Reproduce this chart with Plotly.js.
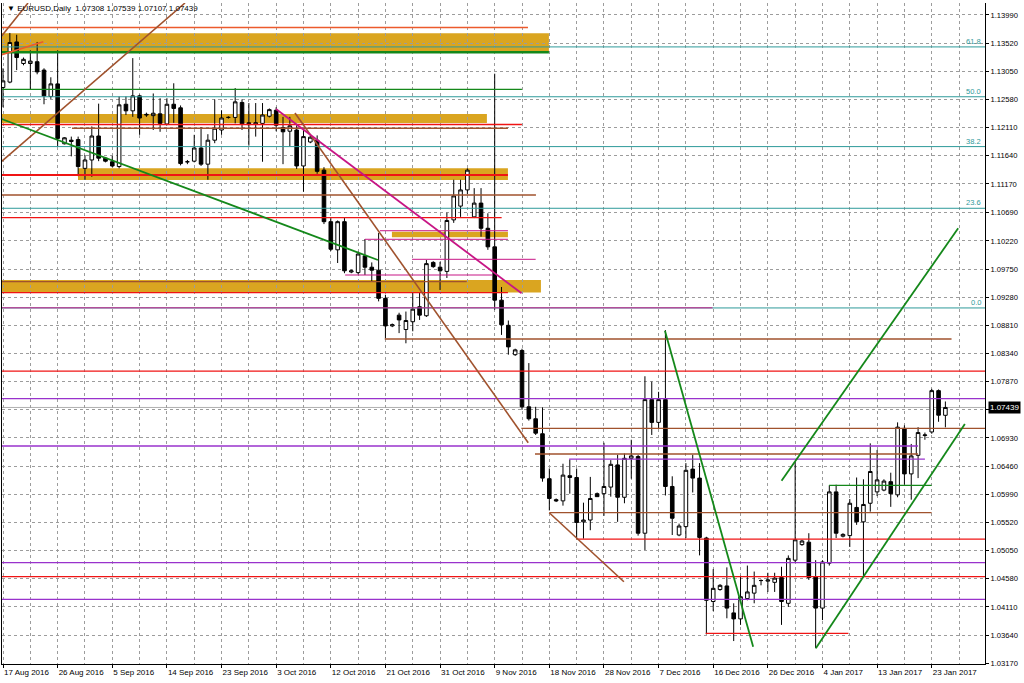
<!DOCTYPE html>
<html>
<head>
<meta charset="utf-8">
<script src="https://cdn.plot.ly/plotly-3.0.1.min.js"></script>
<style>
html,body{margin:0;padding:0;background:#fff;}
#chart{width:1024px;height:683px;}
</style>
</head>
<body>
<div id="chart"></div>
<script>
// ---- Daily bars (broker includes Sunday sessions, no Saturdays) ----
const firstDay = '2016-08-17';
const barCount = 139;
const dates = (function () {
  const out = [];
  const d = new Date(firstDay + 'T00:00:00Z');
  while (out.length < barCount) {
    if (d.getUTCDay() !== 6) out.push(d.toISOString().slice(0, 10));
    d.setUTCDate(d.getUTCDate() + 1);
  }
  return out;
})();

const open = [1.1278,1.1287,1.1354,1.1318,1.1318,1.1321,1.1307,1.1263,1.1284,1.1184,
1.1190,1.1191,1.1143,1.1157,1.1197,1.1160,1.1154,1.1146,1.1250,1.1239,
1.1264,1.1232,1.1231,1.1234,1.1217,1.1250,1.1244,1.1154,1.1155,1.1177,
1.1150,1.1190,1.1207,1.1228,1.1228,1.1253,1.1219,1.1217,1.1218,1.1230,
1.1240,1.1211,1.1205,1.1207,1.1147,1.1187,1.1190,1.1140,1.1054,1.1007,
1.1054,1.0970,1.0969,1.0997,1.0978,1.0973,1.0926,1.0880,1.0898,1.0874,
1.0887,1.0912,1.0897,1.0986,1.0978,1.0971,1.1057,1.1080,1.1107,1.1062,
1.1085,1.1043,1.1012,1.0923,1.0881,1.0832,1.0839,1.0745,1.0725,1.0700,
1.0625,1.0590,1.0588,1.0630,1.0627,1.0553,1.0556,1.0600,1.0600,1.0611,
1.0648,1.0594,1.0659,1.0662,1.0534,1.0757,1.0719,1.0757,1.0612,1.0531,
1.0545,1.0641,1.0626,1.0526,1.0420,1.0440,1.0446,1.0401,1.0391,1.0425,
1.0434,1.0455,1.0454,1.0452,1.0460,1.0417,1.0489,1.0515,1.0519,1.0461,
1.0409,1.0484,1.0603,1.0529,1.0530,1.0577,1.0553,1.0584,1.0603,1.0606,
1.0620,1.0598,1.0709,1.0633,1.0664,1.0697,1.0703,1.0772,1.07308];
const high = [1.1310,1.1369,1.1366,1.1328,1.1340,1.1354,1.1310,1.1295,1.1340,1.1195,
1.1196,1.1196,1.1165,1.1213,1.1251,1.1162,1.1164,1.1263,1.1263,1.1327,
1.1266,1.1236,1.1268,1.1260,1.1260,1.1285,1.1248,1.1157,1.1199,1.1212,
1.1200,1.1258,1.1240,1.1230,1.1277,1.1258,1.1252,1.1252,1.1252,1.1243,
1.1245,1.1229,1.1229,1.1215,1.1207,1.1198,1.1198,1.1145,1.1060,1.1056,
1.1060,1.0974,1.1004,1.1025,1.0986,1.1035,1.0932,1.0884,1.0902,1.0904,
1.0935,1.0935,1.0990,1.0988,1.0987,1.1069,1.1124,1.1124,1.1143,1.1110,
1.1110,1.1068,1.1301,1.0945,1.0889,1.0842,1.0842,1.0818,1.0745,1.0744,
1.0642,1.0592,1.0650,1.0657,1.0642,1.0585,1.0628,1.0602,1.0685,1.0656,
1.0665,1.0667,1.0690,1.0665,1.0796,1.0787,1.0770,1.0873,1.0629,1.0550,
1.0651,1.0665,1.0651,1.0528,1.0474,1.0449,1.0477,1.0417,1.0463,1.0480,
1.0470,1.0457,1.0468,1.0468,1.0478,1.0497,1.0653,1.0523,1.0534,1.0489,
1.0489,1.0614,1.0615,1.0534,1.0591,1.0627,1.0624,1.0684,1.0673,1.0624,
1.0635,1.0719,1.0714,1.0683,1.0711,1.0702,1.0775,1.0774,1.07539];
const low = [1.1245,1.1285,1.1307,1.1315,1.1275,1.1300,1.1250,1.1259,1.1180,1.1183,
1.1163,1.1130,1.1124,1.1129,1.1155,1.1153,1.1145,1.1143,1.1232,1.1229,
1.1199,1.1229,1.1207,1.1204,1.1215,1.1219,1.1148,1.1150,1.1153,1.1147,
1.1124,1.1185,1.1199,1.1226,1.1218,1.1207,1.1181,1.1196,1.1154,1.1228,
1.1205,1.1150,1.1180,1.1142,1.1104,1.1185,1.1134,1.1050,1.1005,1.0985,
1.0968,1.0968,1.0966,1.0965,1.0954,1.0921,1.0859,1.0878,1.0868,1.0851,
1.0871,1.0890,1.0895,1.0977,1.0940,1.0960,1.1052,1.1062,1.1100,1.1060,
1.1029,1.1007,1.0907,1.0865,1.0832,1.0830,1.0740,1.0722,1.0698,1.0620,
1.0572,1.0586,1.0580,1.0600,1.0525,1.0525,1.0539,1.0595,1.0563,1.0595,
1.0553,1.0584,1.0625,1.0530,1.0506,1.0698,1.0709,1.0597,1.0531,1.0529,
1.0526,1.0602,1.0497,1.0365,1.0404,1.0438,1.0392,1.0354,1.0381,1.0422,
1.0417,1.0447,1.0436,1.0436,1.0381,1.0411,1.0485,1.0513,1.0456,1.0342,
1.0389,1.0480,1.0526,1.0527,1.0511,1.0548,1.0462,1.0570,1.0596,1.0604,
1.0578,1.0594,1.0615,1.0590,1.0626,1.0690,1.0700,1.0720,1.07107];
const close = [1.1289,1.1353,1.1328,1.1325,1.1322,1.1304,1.1264,1.1284,1.1193,1.1194,
1.1188,1.1146,1.1157,1.1197,1.1160,1.1155,1.1147,1.1249,1.1239,1.1264,
1.1227,1.1233,1.1235,1.1218,1.1250,1.1243,1.1151,1.1154,1.1177,1.1150,
1.1190,1.1210,1.1227,1.1228,1.1254,1.1217,1.1216,1.1219,1.1232,1.1241,
1.1215,1.1204,1.1214,1.1147,1.1196,1.1195,1.1138,1.1054,1.1008,1.1054,
1.0972,1.0972,1.1000,1.0978,1.0973,1.0926,1.0880,1.0882,1.0890,1.0889,
1.0908,1.0898,1.0984,1.0979,1.0972,1.1056,1.1097,1.1107,1.1140,1.1085,
1.1043,1.1012,1.0923,1.0882,1.0845,1.0840,1.0745,1.0725,1.0701,1.0626,
1.0592,1.0588,1.0631,1.0627,1.0552,1.0556,1.0592,1.0595,1.0612,1.0649,
1.0594,1.0659,1.0663,1.0534,1.0757,1.0719,1.0757,1.0612,1.0559,1.0546,
1.0639,1.0626,1.0527,1.0422,1.0442,1.0447,1.0409,1.0391,1.0428,1.0436,
1.0447,1.0455,1.0456,1.0459,1.0420,1.0492,1.0523,1.0521,1.0460,1.0409,
1.0486,1.0603,1.0534,1.0532,1.0584,1.0553,1.0582,1.0637,1.0623,1.0621,
1.0600,1.0711,1.0633,1.0663,1.0702,1.0698,1.0772,1.0731,1.07439];

// ---- Axis labels ----
const tickDates = ['2016-08-17','2016-08-26','2016-09-05','2016-09-14','2016-09-23','2016-10-03',
  '2016-10-12','2016-10-21','2016-10-31','2016-11-09','2016-11-18','2016-11-28','2016-12-07',
  '2016-12-16','2016-12-26','2017-01-04','2017-01-13','2017-01-23'];
const tickLabels = ['17 Aug 2016','26 Aug 2016','5 Sep 2016','14 Sep 2016','23 Sep 2016','3 Oct 2016',
  '12 Oct 2016','21 Oct 2016','31 Oct 2016','9 Nov 2016','18 Nov 2016','28 Nov 2016','7 Dec 2016',
  '16 Dec 2016','26 Dec 2016','4 Jan 2017','13 Jan 2017','23 Jan 2017'];
const priceTicks = [1.13990,1.13520,1.13050,1.12580,1.12110,1.11640,1.11170,1.10690,1.10220,
  1.09750,1.09280,1.08810,1.08340,1.07870,1.07400,1.06930,1.06460,1.05990,1.05520,1.05050,
  1.04580,1.04110,1.03640,1.03170];
const hiddenTick = 1.07400; // covered by the last-price box

const symbolTitle = 'EURUSD,Daily';
const lastBar = {o: 1.07308, h: 1.07539, l: 1.07107, c: 1.07439};

// ---- Fibonacci retracement ----
const fibLow = 1.0910, fibHigh = 1.1615;
const fibLevels = [0, 23.6, 38.2, 50.0, 61.8];

// ---- Drawn objects: [price, fromBar, toBar] ----
const goldZones = [ // [top, bottom, fromBar, toBar]
  [1.13684, 1.13367, -0.2, 79.94],
  [1.12337, 1.12187, -0.2, 70.86],
  [1.11431, 1.11235, 10.98, 73.94],
  [1.10373, 1.10279, 56.95, 73.94],
  [1.09567, 1.09358, -0.2, 78.77]
];
const END = 143.8;
const redLevels = [
  [1.12162, -0.2, 75.99], [1.10606, -0.2, 73.02], [1.09357, -0.2, 73.94],
  [1.08047, -0.2, END], [1.05243, 83.99, END], [1.04614, -0.2, END], [1.03669, 102.9, 123.8]
];
const redThickLevels = [[1.11319, -0.2, 73.94]];
const orangeLevels = [[1.13781, -0.2, 76.87]];
const siennaLevels = [
  [1.12099, 10.1, 73.94], [1.10985, -0.2, 78.04], [1.09538, -0.2, 67.9],
  [1.08582, 55.9, 138.9], [1.07091, 75.9, END], [1.06662, 77.9, 134.0], [1.05682, 80.0, 135.98]
];
const purpleLevels = [
  [1.07585, -0.2, END], [1.06796, -0.2, 134.0], [1.06576, 82.9, 135.0],
  [1.04848, -0.2, END], [1.04237, -0.2, END]
];
const magentaLevels = [
  [1.10389, 55.2, 73.94], [1.10246, 53.0, 73.94], [1.09912, 59.9, 78.0],
  [1.09650, 50.1, 71.7], [1.09102, -0.2, 103.9]
];
const greenLevels = [[1.12749, -0.2, 75.99], [1.06137, 120.96, 135.98]];
const greenThickLevels = [[1.13367, -0.2, 79.94]];

// ---- Trend lines: [fromBar, fromPrice, toBar, toPrice] ----
const siennaTrends = [
  [-0.2, 1.11548, 26.65, 1.14190], [-0.2, 1.13639, 3.66, 1.14190],
  [42.75, 1.12354, 76.91, 1.06851], [79.99, 1.05682, 90.92, 1.04530]
];
const orangeTrends = [[-0.2, 1.13327, 5.9, 1.13544]];
const greenTrends = [
  [-0.2, 1.12254, 54.9, 1.09900], [96.93, 1.08720, 109.85, 1.03446],
  [114.01, 1.06216, 139.87, 1.10429], [119.03, 1.03419, 140.85, 1.07163]
];
const magentaTrends = [[39.97, 1.12421, 75.94, 1.09344]];

// ---- Styles ----
const C = {
  gold: '#daa520', red: '#f01414', orange: '#ec5a2c', sienna: '#a0522d',
  purple: '#9932cc', magenta: '#c71585', green: '#14881a', teal: '#2e9a9a',
  grid: '#9c9c9c', last: '#b0b0b0'
};
const FONT = 'Liberation Sans, Arial, sans-serif';

const bars = dates.map((d, i) => i);
const shapes = [];
goldZones.forEach(z => shapes.push({type: 'rect', xref: 'x', yref: 'y', x0: z[2], x1: z[3],
  y0: z[1], y1: z[0], fillcolor: C.gold, line: {width: 0}, layer: 'below'}));
function hl(list, color, width) {
  list.forEach(l => shapes.push({type: 'line', xref: 'x', yref: 'y', x0: l[1], x1: l[2],
    y0: l[0], y1: l[0], line: {color: color, width: width}, layer: 'above'}));
}
function tl(list, color, width) {
  list.forEach(l => shapes.push({type: 'line', xref: 'x', yref: 'y', x0: l[0], y0: l[1],
    x1: l[2], y1: l[3], line: {color: color, width: width}, layer: 'above'}));
}
// last price line
shapes.push({type: 'line', xref: 'paper', yref: 'y', x0: 0, x1: 1, y0: lastBar.c, y1: lastBar.c,
  line: {color: C.last, width: 1}, layer: 'below'});
// fibonacci levels
const fibPrices = fibLevels.map(lv => fibLow + (fibHigh - fibLow) * lv / 100);
fibPrices.forEach(p => shapes.push({type: 'line', xref: 'paper', yref: 'y', x0: 0, x1: 1,
  y0: p, y1: p, line: {color: C.teal, width: 1}, layer: 'above'}));
hl(magentaLevels, C.magenta, 1);
hl(purpleLevels, C.purple, 1.3);
hl(siennaLevels, C.sienna, 1.3);
hl(redLevels, C.red, 1.3);
hl(redThickLevels, C.red, 2.2);
hl(orangeLevels, C.orange, 1.3);
hl(greenLevels, C.green, 1.3);
hl(greenThickLevels, C.green, 2.5);
tl(siennaTrends, C.sienna, 1.6);
tl(orangeTrends, C.orange, 1.6);
tl(greenTrends, C.green, 1.8);
tl(magentaTrends, C.magenta, 1.8);

const annotations = [];
fibLevels.forEach((lv, i) => annotations.push({
  xref: 'paper', yref: 'y', x: 1, y: fibPrices[i], xanchor: 'right', yanchor: 'bottom',
  xshift: -2, yshift: -1, text: lv.toFixed(1), showarrow: false,
  font: {family: FONT, size: 7.5, color: C.teal}
}));
annotations.push({
  xref: 'paper', yref: 'paper', x: 0, y: 1, xanchor: 'left', yanchor: 'top', xshift: 3, yshift: 1,
  text: '▼ ' + symbolTitle + '  ' + [lastBar.o, lastBar.h, lastBar.l, lastBar.c].map(v => v.toFixed(5)).join(' '),
  showarrow: false, font: {family: FONT, size: 8, color: '#000'}
});
annotations.push({
  xref: 'paper', yref: 'y', x: 1, y: lastBar.c, xanchor: 'left', yanchor: 'middle', xshift: 3,
  text: lastBar.c.toFixed(5), showarrow: false, bgcolor: '#000', borderpad: 1,
  font: {family: FONT, size: 8, color: '#fff'}
});

const trace = {
  type: 'candlestick', x: bars, open: open, high: high, low: low, close: close,
  text: dates, hoverinfo: 'x+text',
  increasing: {line: {color: '#000', width: 1}, fillcolor: '#fff'},
  decreasing: {line: {color: '#000', width: 1}, fillcolor: '#000'},
  whiskerwidth: 0
};

const layout = {
  width: 1024, height: 683,
  margin: {l: 2, r: 39, t: 3, b: 19, pad: 0},
  paper_bgcolor: '#fff', plot_bgcolor: '#fff',
  showlegend: false,
  boxgap: 0.25,
  font: {family: FONT, size: 8, color: '#000'},
  xaxis: {
    type: 'linear', range: [-0.15, 143.8], rangeslider: {visible: false},
    tickmode: 'array', tickvals: tickDates.map(d => dates.indexOf(d)), ticktext: tickLabels,
    tickangle: 0, automargin: false,
    ticks: 'outside', ticklen: 3, tickcolor: '#000', tickwidth: 1,
    ticklabelposition: 'outside right',
    showline: true, linecolor: '#000', linewidth: 1, zeroline: false,
    showgrid: true, gridcolor: C.grid, griddash: '3px,3px', gridwidth: 1,
    minor: {tickmode: 'linear', tick0: 0, dtick: 4, showgrid: true, gridcolor: C.grid,
      griddash: '3px,3px', gridwidth: 1, ticks: ''},
    tickfont: {family: FONT, size: 8, color: '#000'}, fixedrange: true
  },
  yaxis: {
    side: 'right', range: [1.03157, 1.14190], automargin: false,
    tickmode: 'array', tickvals: priceTicks,
    ticktext: priceTicks.map(v => v === hiddenTick ? '' : v.toFixed(5)),
    ticks: 'outside', ticklen: 3, tickcolor: '#000',
    showline: true, mirror: true, linecolor: '#000', linewidth: 1, zeroline: false,
    showgrid: true, gridcolor: C.grid, griddash: '3px,3px', gridwidth: 1,
    tickfont: {family: FONT, size: 7.6, color: '#000'}, fixedrange: true
  },
  shapes: shapes,
  annotations: annotations
};

Plotly.newPlot('chart', [trace], layout, {displayModeBar: false, staticPlot: true});
</script>
</body>
</html>
